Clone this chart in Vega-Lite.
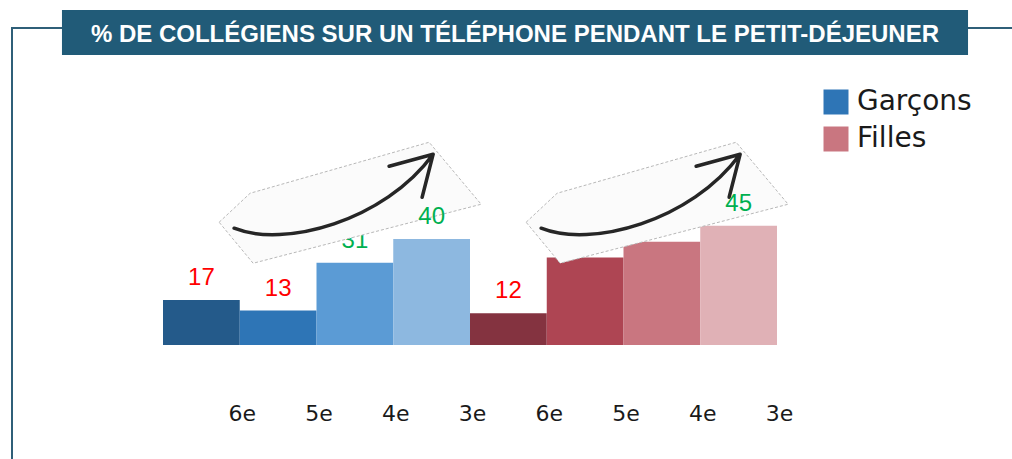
{
  "$schema": "https://vega.github.io/schema/vega-lite/v6.json",
  "width": 1003,
  "height": 434,
  "autosize": {"type": "none"},
  "padding": {"left": 12, "top": 28, "right": -3, "bottom": -3},
  "background": "white",
  "datasets": {
    "barres": [
      {"barre": "Garçons 6e", "sexe": "Garçons", "niveau": "6e", "valeur": 17},
      {"barre": "Garçons 5e", "sexe": "Garçons", "niveau": "5e", "valeur": 13},
      {"barre": "Garçons 4e", "sexe": "Garçons", "niveau": "4e", "valeur": 31},
      {"barre": "Garçons 3e", "sexe": "Garçons", "niveau": "3e", "valeur": 40},
      {"barre": "Filles 6e", "sexe": "Filles", "niveau": "6e", "valeur": 12},
      {"barre": "Filles 5e", "sexe": "Filles", "niveau": "5e", "valeur": 33},
      {"barre": "Filles 4e", "sexe": "Filles", "niveau": "4e", "valeur": 39},
      {"barre": "Filles 3e", "sexe": "Filles", "niveau": "3e", "valeur": 45}
    ],
    "fleches": [
      {"barre": "Garçons 5e", "sexe": "Garçons"},
      {"barre": "Filles 5e", "sexe": "Filles"}
    ],
    "titre": [
      {"texte": "% DE COLLÉGIENS SUR UN TÉLÉPHONE PENDANT LE PETIT-DÉJEUNER"}
    ]
  },
  "layer": [
    {
      "layer": [
        {
          "data": {"name": "barres"},
          "mark": {"type": "bar"},
          "encoding": {
            "x": {
              "field": "barre", "type": "nominal", "sort": null, "title": null,
              "scale": {
                "domain": ["Garçons 6e", "Garçons 5e", "Garçons 4e", "Garçons 3e", "Filles 6e", "Filles 5e", "Filles 4e", "Filles 3e"],
                "range": [151, 765], "paddingInner": 0, "paddingOuter": 0
              },
              "axis": {
                "labelExpr": "split(datum.label, ' ')[1]",
                "labelOffset": 41, "offset": -59, "domain": false, "ticks": false, "tickSize": 0,
                "labelPadding": 0, "labelAngle": 0, "labelFont": "DejaVu Sans", "labelFontSize": 22,
                "labelColor": "#1a1a1a", "grid": false
              }
            },
            "y": {"field": "valeur", "type": "quantitative", "scale": {"domain": [-44.15, 119.62], "nice": false, "zero": false}, "axis": null},
            "y2": {"datum": 0},
            "color": {
              "field": "barre", "type": "nominal",
              "scale": {
                "domain": ["Garçons 6e", "Garçons 5e", "Garçons 4e", "Garçons 3e", "Filles 6e", "Filles 5e", "Filles 4e", "Filles 3e"],
                "range": ["#245A8A", "#2E75B6", "#5B9BD5", "#8DB8E0", "#843340", "#AE4553", "#C97680", "#E0B1B6"]
              },
              "legend": {
                "values": ["Garçons 5e", "Filles 4e"],
                "labelExpr": "split(datum.label, ' ')[0]",
                "title": null, "orient": "none", "legendX": 810, "legendY": 60,
                "symbolType": "square", "symbolSize": 625, "symbolStrokeWidth": 0, "symbolOpacity": 1,
                "labelFont": "DejaVu Sans", "labelFontSize": 28, "labelColor": "#1a1a1a",
                "rowPadding": 9, "labelOffset": 7, "padding": 0
              }
            }
          }
        },
        {
          "data": {"name": "barres"},
          "transform": [{"filter": "datum.niveau != '3e'"}],
          "mark": {"type": "text", "font": "Liberation Sans", "fontSize": 24, "baseline": "alphabetic", "align": "center", "dy": -15},
          "encoding": {
            "x": {"field": "barre", "type": "nominal", "title": null},
            "y": {"field": "valeur", "type": "quantitative", "axis": null},
            "text": {"field": "valeur", "type": "quantitative"},
            "color": {"condition": {"test": "datum.valeur < 20", "value": "#FF0000"}, "value": "#00B050"}
          }
        },
        {
          "data": {"name": "fleches"},
          "mark": {"type": "point", "shape": "M-0.59,0.23L-0.28,-0.06L1.51,-0.57L2.03,0.05L-0.25,0.64Z", "size": 40000, "filled": true, "fill": "#fbfbfb", "stroke": "#b8b8b8", "strokeWidth": 1, "strokeDash": [3, 2], "opacity": 1},
          "encoding": {
            "x": {"field": "barre", "type": "nominal", "title": null},
            "y": {"datum": 55, "type": "quantitative", "axis": null}
          }
        },
        {
          "data": {"name": "fleches"},
          "mark": {"type": "point", "shape": "M-0.44,0.29C0.06,0.49 1.06,0.22 1.55,-0.45M1.11,-0.33L1.55,-0.45L1.44,-0.02", "size": 40000, "filled": false, "stroke": "#262626", "strokeWidth": 3.5, "strokeCap": "round", "strokeJoin": "round", "opacity": 1},
          "encoding": {
            "x": {"field": "barre", "type": "nominal", "title": null},
            "y": {"datum": 55, "type": "quantitative", "axis": null}
          }
        },
        {
          "data": {"name": "barres"},
          "transform": [{"filter": "datum.niveau == '3e'"}],
          "mark": {"type": "text", "font": "Liberation Sans", "fontSize": 24, "baseline": "alphabetic", "align": "center", "dy": -15},
          "encoding": {
            "x": {"field": "barre", "type": "nominal", "title": null},
            "y": {"field": "valeur", "type": "quantitative", "axis": null},
            "text": {"field": "valeur", "type": "quantitative"},
            "color": {"condition": {"test": "datum.valeur < 20", "value": "#FF0000"}, "value": "#00B050"}
          }
        }
      ]
    },
    {
      "data": {"name": "titre"},
      "layer": [
        {
          "mark": {"type": "rect", "fill": "#215B78"},
          "encoding": {
            "x": {"datum": -1.316, "type": "quantitative", "scale": {"domain": [-1.967, 11.101], "nice": false, "zero": false}, "axis": null},
            "x2": {"datum": 10.489},
            "y": {"datum": 126.42, "type": "quantitative", "axis": null},
            "y2": {"datum": 109.43}
          }
        },
        {
          "mark": {"type": "text", "font": "Liberation Sans", "fontWeight": "bold", "fontSize": 24, "color": "#ffffff", "baseline": "alphabetic", "align": "center"},
          "encoding": {
            "x": {"datum": 4.586, "type": "quantitative", "axis": null},
            "y": {"datum": 114.34, "type": "quantitative", "axis": null},
            "text": {"field": "texte", "type": "nominal"}
          }
        }
      ]
    }
  ],
  "resolve": {"scale": {"x": "independent"}},
  "config": {
    "view": {"stroke": "#2F5F78", "strokeWidth": 2},
    "axis": {"grid": false}
  }
}
